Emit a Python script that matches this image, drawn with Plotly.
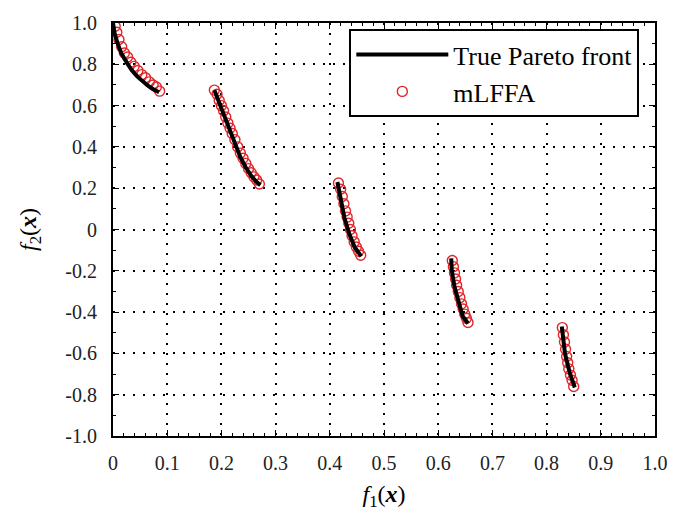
import plotly.graph_objects as go

# True Pareto front segments
front_f1 = [0.0, 0.003, 0.008, 0.015, 0.025, 0.035, 0.045, 0.055, 0.065, 0.075, 0.085, None,
            0.187, 0.195, 0.205, 0.215, 0.225, 0.235, 0.245, 0.255, 0.265, 0.272, None,
            0.414, 0.421, 0.427, 0.436, 0.446, 0.458, None,
            0.624, 0.625, 0.630, 0.638, 0.645, 0.655, None,
            0.828, 0.834, 0.843, 0.852]
front_f2 = [1.0, 0.95, 0.905, 0.855, 0.81, 0.77, 0.74, 0.715, 0.695, 0.678, 0.665, None,
            0.675, 0.62, 0.55, 0.48, 0.41, 0.35, 0.30, 0.26, 0.23, 0.215, None,
            0.23, 0.137, 0.057, -0.022, -0.086, -0.13, None,
            -0.14, -0.197, -0.276, -0.356, -0.419, -0.455, None,
            -0.47, -0.602, -0.697, -0.765]

# mLFFA solutions
mlffa_f1 = [0.004, 0.007, 0.011, 0.016, 0.021, 0.027, 0.033, 0.039, 0.046, 0.053, 0.060, 0.067, 0.074, 0.080, 0.086,
            0.187, 0.192, 0.196, 0.200, 0.204, 0.208, 0.212, 0.216, 0.220, 0.225, 0.230, 0.235, 0.240, 0.245, 0.250, 0.255, 0.260, 0.265, 0.270,
            0.416, 0.420, 0.423, 0.426, 0.429, 0.432, 0.435, 0.438, 0.441, 0.445, 0.449, 0.453, 0.457,
            0.626, 0.628, 0.630, 0.632, 0.634, 0.637, 0.640, 0.643, 0.646, 0.649, 0.652, 0.655,
            0.829, 0.831, 0.833, 0.835, 0.837, 0.839, 0.841, 0.844, 0.847, 0.850]
mlffa_f2 = [0.985, 0.955, 0.92, 0.885, 0.855, 0.835, 0.81, 0.79, 0.77, 0.75, 0.735, 0.715, 0.70, 0.69, 0.67,
            0.675, 0.655, 0.625, 0.60, 0.575, 0.545, 0.515, 0.49, 0.465, 0.435, 0.40, 0.37, 0.345, 0.32, 0.295, 0.275, 0.255, 0.24, 0.22,
            0.225, 0.195, 0.16, 0.125, 0.09, 0.06, 0.03, 0.0, -0.03, -0.06, -0.085, -0.105, -0.125,
            -0.15, -0.18, -0.21, -0.24, -0.27, -0.30, -0.33, -0.36, -0.385, -0.41, -0.43, -0.45,
            -0.475, -0.51, -0.545, -0.58, -0.615, -0.645, -0.675, -0.705, -0.73, -0.76]

x_ticks = [0, 0.1, 0.2, 0.3, 0.4, 0.5, 0.6, 0.7, 0.8, 0.9, 1.0]
x_labels = ["0", "0.1", "0.2", "0.3", "0.4", "0.5", "0.6", "0.7", "0.8", "0.9", "1.0"]
y_ticks = [1.0, 0.8, 0.6, 0.4, 0.2, 0, -0.2, -0.4, -0.6, -0.8, -1.0]
y_labels = ["1.0", "0.8", "0.6", "0.4", "0.2", "0", "-0.2", "-0.4", "-0.6", "-0.8", "-1.0"]

FONT = "Liberation Serif, Times New Roman, serif"
RED = "#e0262a"

fig = go.Figure()
fig.add_trace(go.Scatter(x=mlffa_f1, y=mlffa_f2, mode="markers", name="mLFFA",
                         marker=dict(symbol="circle-open", size=10, color=RED, line=dict(width=1.4, color=RED)),
                         showlegend=False))
fig.add_trace(go.Scatter(x=front_f1, y=front_f2, mode="lines", name="True Pareto front",
                         line=dict(color="black", width=4), connectgaps=False))
fig.add_trace(go.Scatter(x=[None], y=[None], mode="markers", name="mLFFA",
                         marker=dict(symbol="circle-open", size=10, color=RED, line=dict(width=1.4, color=RED))))

axis_common = dict(showline=True, linecolor="black", linewidth=2, mirror="ticks",
                   ticks="inside", ticklen=6, tickwidth=1, tickcolor="black",
                   showgrid=True, gridcolor="black", griddash="2px,8px", gridwidth=1.5,
                   zeroline=False, tickfont=dict(family=FONT, size=20, color="#222"))

fig.update_xaxes(range=[0, 1.0], tickvals=x_ticks, ticktext=x_labels, ticklabelstandoff=8,
                 minor=dict(dtick=0.02, ticks="inside", ticklen=3, tickcolor="black", showgrid=False),
                 title=dict(text="<i>f</i><sub>1</sub>(<b><i>x</i></b>)", font=dict(family=FONT, size=24, color="black"), standoff=12),
                 **axis_common)
fig.update_yaxes(range=[-1.0, 1.0], tickvals=y_ticks, ticktext=y_labels, ticklabelstandoff=10,
                 minor=dict(dtick=0.1, ticks="inside", ticklen=3, tickcolor="black", showgrid=False),
                 title=dict(text="<i>f</i><sub>2</sub>(<b><i>x</i></b>)", font=dict(family=FONT, size=24, color="black"), standoff=22),
                 **axis_common)

fig.update_layout(width=680, height=515, margin=dict(l=113, r=23, t=17, b=78),
                  plot_bgcolor="white", paper_bgcolor="white",
                  font=dict(family=FONT, color="black"),
                  legend=dict(x=0.436, y=0.985, xanchor="left", yanchor="top",
                              bgcolor="white", bordercolor="black", borderwidth=2,
                              font=dict(family=FONT, size=26, color="black"),
                              tracegroupgap=0, itemwidth=92))

fig.write_html("out.html")
